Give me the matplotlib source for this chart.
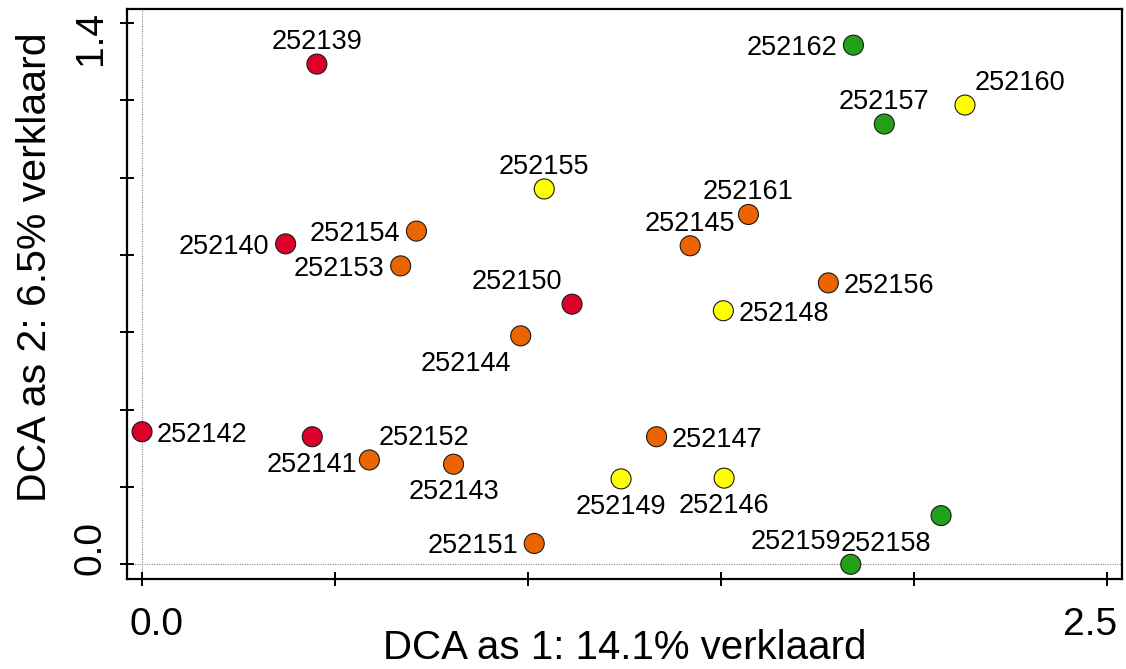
import matplotlib
matplotlib.use("Agg")
import matplotlib.pyplot as plt
from matplotlib.transforms import ScaledTranslation

plt.rcParams['font.family'] = ['Liberation Sans', 'DejaVu Sans']

# ---------------- data ----------------
sample_ids = ["252139", "252140", "252141", "252142", "252143", "252144",
              "252145", "252146", "252147", "252148", "252149", "252150",
              "252151", "252152", "252153", "252154", "252155", "252156",
              "252157", "252158", "252159", "252160", "252161", "252162"]
dca_axis1 = [0.453, 0.372, 0.441, 0.000, 0.807, 0.981,
             1.420, 1.508, 1.333, 1.506, 1.241, 1.114,
             1.016, 0.589, 0.670, 0.711, 1.042, 1.778,
             1.923, 2.070, 1.836, 2.132, 1.571, 1.843]
dca_axis2 = [1.294, 0.829, 0.330, 0.343, 0.259, 0.591,
             0.824, 0.223, 0.330, 0.656, 0.221, 0.673,
             0.054, 0.270, 0.772, 0.862, 0.971, 0.728,
             1.139, 0.126, 0.000, 1.188, 0.905, 1.343]
groups = ["red", "red", "red", "red", "orange", "orange",
          "orange", "yellow", "orange", "yellow", "yellow", "red",
          "orange", "orange", "orange", "orange", "yellow", "orange",
          "green", "green", "green", "yellow", "orange", "green"]
group_colors = {"red": "#DC0028", "orange": "#EC6400",
                "yellow": "#FFFF00", "green": "#22A01A"}

# label placement direction per sample
label_dirs = ["N", "W", "S", "E", "S", "SW",
              "N", "S", "E", "E", "S", "NW",
              "W", "NE", "W", "W", "N", "E",
              "N", "SW", "NW", "NE", "N", "W"]

x_ticks = [0.0, 0.5, 1.0, 1.5, 2.0, 2.5]
x_tick_labels = ["0.0", "", "", "", "", "2.5"]
y_ticks = [0.0, 0.2, 0.4, 0.6, 0.8, 1.0, 1.2, 1.4]
y_tick_labels = ["0.0", "", "", "", "", "", "", "1.4"]
x_title = "DCA as 1: 14.1% verklaard"
y_title = "DCA as 2: 6.5% verklaard"

# ---------------- styling ----------------
dir_offsets = {  # (dx px, dy px, ha)
    "E": (15, 0, "left"),
    "W": (-16, 0, "right"),
    "N": (0, 25, "center"),
    "S": (0, -25, "center"),
    "NE": (55, 25, "center"),
    "NW": (-55, 25, "center"),
    "SW": (-55, -25, "center"),
    "SE": (55, -25, "center"),
}

fig = plt.figure(figsize=(11.26, 6.69), dpi=100)
ax = fig.add_axes([0.1128, 0.1345, 0.8837, 0.852])
ax.set_xlim(-0.0389, 2.5389)
ax.set_ylim(-0.038, 1.4364)

ax.axhline(0, color="#888888", lw=0.8, ls=(0, (1, 1.2)), zorder=1)
ax.axvline(0, color="#888888", lw=0.8, ls=(0, (1, 1.2)), zorder=1)

ax.scatter(dca_axis1, dca_axis2, s=14.4 ** 2,
           c=[group_colors[g] for g in groups],
           edgecolors="#1a1a1a", linewidths=0.8, zorder=3)

for sid, xv, yv, d in zip(sample_ids, dca_axis1, dca_axis2, label_dirs):
    dx, dy, ha = dir_offsets[d]
    ax.annotate(sid, (xv, yv), xytext=(dx, dy), textcoords="offset pixels",
                ha=ha, va="center_baseline", fontsize=19.5, color="black",
                zorder=4)

for sp in ax.spines.values():
    sp.set_linewidth(1.6)

ax.set_xticks(x_ticks, x_tick_labels)
ax.set_yticks(y_ticks, y_tick_labels)
ax.tick_params(axis="both", direction="inout", length=10, width=1.4,
               labelsize=28)
ax.tick_params(axis="x", pad=15)
ax.tick_params(axis="y", pad=8)
for lbl in ax.get_yticklabels():
    lbl.set_rotation(90)
    lbl.set_verticalalignment("center")

xl = ax.get_xticklabels()
xl[0].set_transform(xl[0].get_transform() +
                    ScaledTranslation(14 / 100, 0, fig.dpi_scale_trans))
xl[-1].set_transform(xl[-1].get_transform() +
                     ScaledTranslation(-17 / 100, 0, fig.dpi_scale_trans))
yl = ax.get_yticklabels()
yl[0].set_transform(yl[0].get_transform() +
                    ScaledTranslation(0, 16.5 / 100, fig.dpi_scale_trans))
yl[-1].set_transform(yl[-1].get_transform() +
                     ScaledTranslation(0, -14.5 / 100, fig.dpi_scale_trans))

ax.set_xlabel(x_title, fontsize=29)
ax.set_ylabel(y_title, fontsize=29.5)
ax.xaxis.set_label_coords(0.5, -0.088)
ax.yaxis.set_label_coords(-0.073, 0.547)

fig.savefig("out.png", dpi=100)
